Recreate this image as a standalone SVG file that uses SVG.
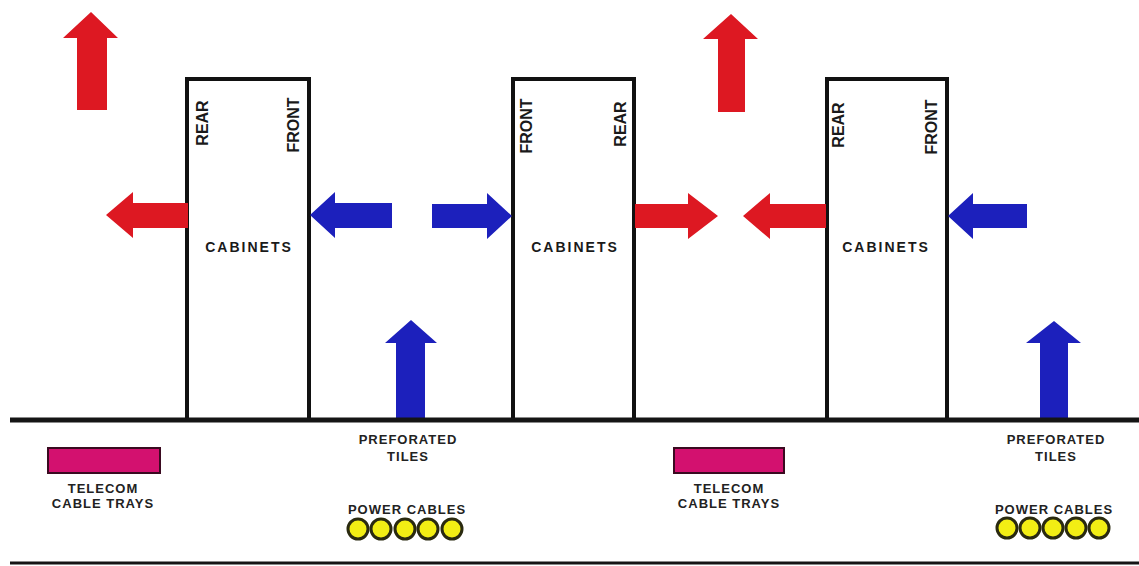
<svg xmlns="http://www.w3.org/2000/svg" width="1139" height="566" viewBox="0 0 1139 566">
<style>
.cab{fill:#fff;stroke:#111;stroke-width:4}
.red{fill:#DD1822}
.blue{fill:#1C20BC}
.side{font-family:"Liberation Sans",Arial,sans-serif;font-weight:bold;font-size:16px;fill:#1a1a1a;text-anchor:middle;dominant-baseline:central}
.cabt{font-family:"Liberation Sans",Arial,sans-serif;font-weight:bold;font-size:14px;letter-spacing:2px;fill:#1a1a1a;text-anchor:middle}
.lbl{font-family:"Liberation Sans",Arial,sans-serif;font-weight:bold;font-size:13px;letter-spacing:1px;fill:#222;text-anchor:middle}
.tray{fill:#D3116F;stroke:#3a0a20;stroke-width:2}
.pc{fill:#F2EE14;stroke:#2a2a10;stroke-width:3}
.floor{stroke:#151515;stroke-width:5}
</style>
<rect width="1139" height="566" fill="#fff"/>
<g id="cabinet1">
<rect class="cab" x="187" y="79" width="122" height="341"/>
<text class="side" transform="translate(202,123) rotate(-90)">REAR</text>
<text class="side" transform="translate(293,125) rotate(-90)">FRONT</text>
<text class="cabt" x="249" y="252">CABINETS</text>
</g>
<g id="cabinet2">
<rect class="cab" x="513" y="79" width="121" height="341"/>
<text class="side" transform="translate(526,126) rotate(-90)">FRONT</text>
<text class="side" transform="translate(620,124) rotate(-90)">REAR</text>
<text class="cabt" x="575" y="252">CABINETS</text>
</g>
<g id="cabinet3">
<rect class="cab" x="827" y="79" width="120" height="341"/>
<text class="side" transform="translate(838,125) rotate(-90)">REAR</text>
<text class="side" transform="translate(931,127) rotate(-90)">FRONT</text>
<text class="cabt" x="886" y="252">CABINETS</text>
</g>
<g id="connectors">
<path class="red" d="M77,110 V38 H63 L91,12 L118,38 H107 V110 Z"/>
<path class="red" d="M718,112 V39 H703 L731,14 L758,39 H745 V112 Z"/>
<path class="red" d="M188,203 H133 V192 L106,215 L133,238 V228 H188 Z"/>
<path class="blue" d="M392,203 H335 V192 L310,215 L335,238 V228 H392 Z"/>
<path class="blue" d="M432,204 H487 V193 L512,216 L487,239 V228 H432 Z"/>
<path class="red" d="M635,204 H688 V193 L718,216 L688,239 V228 H635 Z"/>
<path class="red" d="M826,204 H770 V193 L743,216 L770,239 V228 H826 Z"/>
<path class="blue" d="M1027,204 H973 V193 L948,216 L973,239 V228 H1027 Z"/>
<path class="blue" d="M396,419 V343 H385 L411,320 L437,343 H425 V419 Z"/>
<path class="blue" d="M1040,419 V343 H1026 L1054,321 L1081,343 H1068 V419 Z"/>
</g>
<g id="floor">
<line class="floor" x1="10" y1="420" x2="1139" y2="420"/>
<line x1="10" y1="563" x2="1139" y2="563" stroke="#151515" stroke-width="3"/>
</g>
<g id="tray1">
<rect class="tray" x="48" y="448" width="112" height="25"/>
<text class="lbl" x="103" y="493">TELECOM</text>
<text class="lbl" x="103" y="508">CABLE TRAYS</text>
</g>
<g id="tray2">
<rect class="tray" x="674" y="448" width="110" height="25"/>
<text class="lbl" x="729" y="493">TELECOM</text>
<text class="lbl" x="729" y="508">CABLE TRAYS</text>
</g>
<g id="tiles1">
<text class="lbl" x="408" y="444">PREFORATED</text>
<text class="lbl" x="408" y="461">TILES</text>
</g>
<g id="tiles2">
<text class="lbl" x="1056" y="444">PREFORATED</text>
<text class="lbl" x="1056" y="461">TILES</text>
</g>
<g id="power1">
<text class="lbl" x="407" y="514">POWER CABLES</text>
<circle class="pc" cx="358" cy="529" r="10"/>
<circle class="pc" cx="381" cy="529" r="10"/>
<circle class="pc" cx="405" cy="529" r="10"/>
<circle class="pc" cx="428" cy="529" r="10"/>
<circle class="pc" cx="452" cy="529" r="10"/>
</g>
<g id="power2">
<text class="lbl" x="1054" y="514">POWER CABLES</text>
<circle class="pc" cx="1007" cy="528" r="10"/>
<circle class="pc" cx="1030" cy="528" r="10"/>
<circle class="pc" cx="1053" cy="528" r="10"/>
<circle class="pc" cx="1076" cy="528" r="10"/>
<circle class="pc" cx="1099" cy="528" r="10"/>
</g>
</svg>
